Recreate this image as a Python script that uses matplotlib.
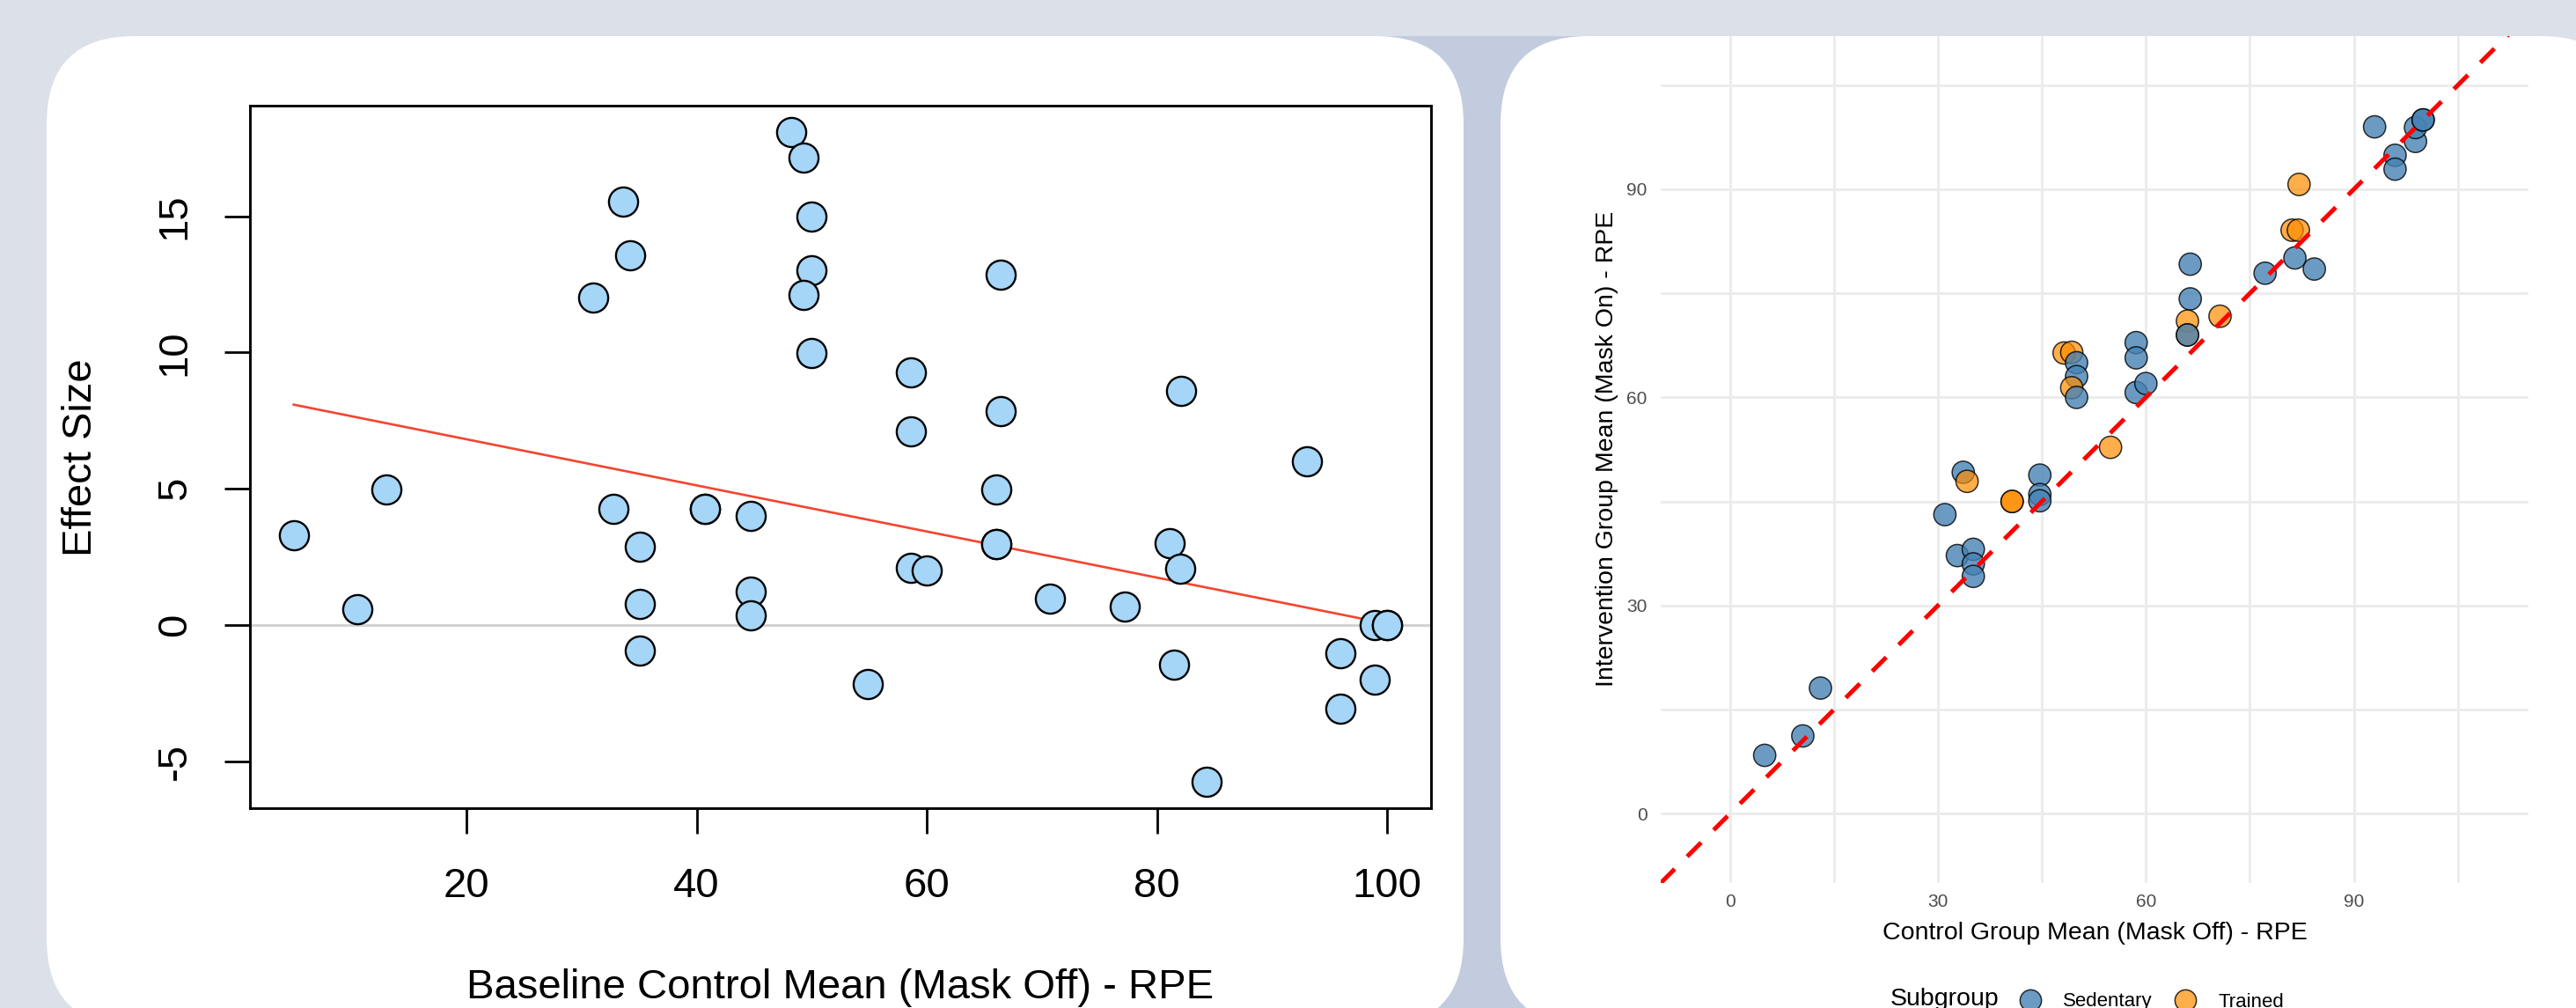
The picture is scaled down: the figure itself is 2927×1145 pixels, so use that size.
import numpy as np
import matplotlib
matplotlib.use('Agg')
import matplotlib.pyplot as plt
from matplotlib.patches import FancyBboxPatch, Rectangle
from matplotlib.lines import Line2D

plt.rcParams['font.family'] = ['Liberation Sans', 'DejaVu Sans']

# control group mean (mask off), effect size, intervention mean (mask on), subgroup
ctrl = [5.0, 10.5, 13.05, 31.0, 33.65, 34.2, 32.8, 35.1, 35.1, 35.1,
        40.7, 40.7, 44.7, 44.7, 44.7, 48.2, 49.3, 50.0, 50.0, 49.3,
        50.0, 54.9, 58.6, 58.6, 58.6, 60.0, 66.4, 66.4, 66.0, 66.0,
        66.0, 70.7, 77.2, 81.1, 82.0, 82.1, 81.5, 84.3, 93.0, 95.95,
        95.95, 98.9, 98.9, 100.0, 100.0]
effect = [3.31, 0.59, 4.98, 12.0, 15.52, 13.58, 4.28, 2.88, 0.78, -0.92,
          4.28, 4.28, 4.02, 1.23, 0.35, 18.1, 17.15, 15.0, 13.0, 12.12,
          9.99, -2.17, 9.28, 7.11, 2.10, 2.01, 12.85, 7.84, 4.98, 2.98,
          2.98, 0.97, 0.69, 3.0, 2.08, 8.58, -1.44, -5.76, 6.0, -1.04,
          -3.05, -2.0, 0.0, 0.0, 0.0]
interv = [8.4, 11.2, 18.1, 43.1, 49.2, 47.9, 37.2, 38.1, 36.0, 34.2,
          45.0, 45.0, 48.8, 46.0, 45.1, 66.4, 66.5, 65.0, 63.0, 61.4,
          60.0, 52.8, 67.9, 65.7, 60.7, 62.0, 79.2, 74.2, 71.0, 69.0,
          69.0, 71.7, 77.9, 84.1, 84.1, 90.7, 80.1, 78.5, 99.0, 94.9,
          92.9, 96.9, 98.9, 100.0, 100.0]
subgroup = ['Sedentary', 'Sedentary', 'Sedentary', 'Sedentary', 'Sedentary',
            'Trained', 'Sedentary', 'Sedentary', 'Sedentary', 'Sedentary',
            'Trained', 'Trained', 'Sedentary', 'Sedentary', 'Sedentary',
            'Trained', 'Trained', 'Sedentary', 'Sedentary', 'Trained',
            'Sedentary', 'Trained', 'Sedentary', 'Sedentary', 'Sedentary',
            'Sedentary', 'Sedentary', 'Sedentary', 'Trained', 'Trained',
            'Sedentary', 'Trained', 'Sedentary', 'Trained', 'Trained',
            'Trained', 'Sedentary', 'Sedentary', 'Sedentary', 'Sedentary',
            'Sedentary', 'Sedentary', 'Sedentary', 'Sedentary', 'Sedentary']

# meta-regression line as shown in the left panel
fit_intercept = 8.51
fit_slope = -0.0846

W, H = 2927, 1145


def fx(px):
    return px / W


def fy(py):
    return 1 - py / H


fig = plt.figure(figsize=(W / 100, H / 100), dpi=100, facecolor='#DCE0E8')

# page background: bluish gutter between the two white cards
fig.add_artist(Rectangle((fx(1560), 0), fx(1810) - fx(1560), fy(41),
                         transform=fig.transFigure, fc='#C3CCDF', ec='none', zorder=-3))
for x0, w in [(0.53, 16.10), (17.05, 12.82)]:
    fig.add_artist(FancyBboxPatch((x0, -0.21), w, 11.25,
                                  boxstyle='round,pad=0,rounding_size=1.0',
                                  transform=fig.dpi_scale_trans,
                                  fc='white', ec='none', zorder=-2))
# top band hides the part of the right plot that runs above the card
fig.add_artist(Rectangle((0, fy(41)), 1, 1 - fy(41) + 0.01, transform=fig.transFigure,
                         fc='#DCE0E8', ec='none', zorder=5))

# ---- left: base-R style scatter ----
ax1 = fig.add_axes([fx(284), fy(918), fx(1626) - fx(284), fy(120) - fy(918)])
ax1.set_facecolor('none')
xr = max(ctrl) - min(ctrl)
yr = max(effect) - min(effect)
ax1.set_xlim(min(ctrl) - 0.04 * xr, max(ctrl) + 0.04 * xr)
ax1.set_ylim(min(effect) - 0.04 * yr, max(effect) + 0.04 * yr)
ax1.axhline(0, color='#D3D3D3', lw=2.2, zorder=1)
xx = np.array([min(ctrl), max(ctrl)])
ax1.plot(xx, fit_intercept + fit_slope * xx, color='#F4452F', lw=1.9, zorder=2)
ax1.scatter(ctrl, effect, s=570, c='#A5D5F7', edgecolors='black', linewidths=1.7, zorder=3)
for sp in ax1.spines.values():
    sp.set_linewidth(2.1)
xt = [20, 40, 60, 80, 100]
yt = [-5, 0, 5, 10, 15]
ax1.set_xticks(xt, [str(v) for v in xt])
ax1.set_yticks(yt, [str(v) for v in yt], rotation=90, va='center')
ax1.tick_params(direction='out', length=21, width=2.0, labelsize=34)
ax1.tick_params(axis='x', pad=27.5)
ax1.tick_params(axis='y', pad=24.5)
fig.text(fx(104), fy(520), 'Effect Size', rotation=90, rotation_mode='anchor',
         ha='center', va='baseline', fontsize=34)
fig.text(fx(955), fy(1134), 'Baseline Control Mean (Mask Off) - RPE',
         ha='center', va='baseline', fontsize=34)

# ---- right: ggplot style scatter ----
cols = {'Sedentary': (70 / 255, 130 / 255, 180 / 255, 0.8),
        'Trained': (1.0, 140 / 255, 0.0, 0.7)}
edge = (0, 0, 0, 0.8)
ax2 = fig.add_axes([fx(1887), fy(1003), fx(2873) - fx(1887), fy(18) - fy(1003)])
ax2.set_facecolor('none')
ax2.set_xlim(-10, 115.2)
ax2.set_ylim(-10, 115)
ticks = [0, 30, 60, 90]
minor = [15, 45, 75, 105]
ax2.set_xticks(ticks)
ax2.set_yticks(ticks)
ax2.set_xticks(minor, minor=True)
ax2.set_yticks(minor, minor=True)
ax2.grid(which='both', color='#EBEBEB', lw=2.0)
ax2.set_axisbelow(True)
for sp in ax2.spines.values():
    sp.set_visible(False)
ax2.tick_params(which='both', length=0, labelsize=15, labelcolor='#4D4D4D')
ax2.tick_params(axis='x', pad=9)
ax2.tick_params(axis='y', pad=11)
ax2.scatter(ctrl, interv, s=330, c=[cols[g] for g in subgroup],
            edgecolors=[edge] * len(ctrl), linewidths=1.1, zorder=3)
lims = np.array(ax2.get_xlim())
ax2.plot(lims, lims, color='red', lw=3.6, dashes=(4.5, 4), dash_capstyle='butt', zorder=4)
fig.text(fx(2380), fy(1067), 'Control Group Mean (Mask Off) - RPE',
         ha='center', va='baseline', fontsize=20.5)
fig.text(fx(1833), fy(510), 'Intervention Group Mean (Mask On) - RPE', rotation=90,
         rotation_mode='anchor', ha='center', va='baseline', fontsize=20.5)

handles = [Line2D([], [], ls='none', marker='o', ms=17.5, mfc=cols[g], mec=edge, mew=1.1)
           for g in ['Sedentary', 'Trained']]
fig.legend(handles, ['Sedentary', 'Trained'], loc='center left',
           bbox_to_anchor=(fx(2296), fy(1138)), ncol=2, frameon=False, fontsize=16,
           handlelength=1.0, handletextpad=1.17, columnspacing=1.17,
           borderpad=0, borderaxespad=0)
fig.text(fx(2148), fy(1142), 'Subgroup', ha='left', va='baseline', fontsize=20.5)

fig.savefig('out.png', dpi=100, facecolor=fig.get_facecolor())
